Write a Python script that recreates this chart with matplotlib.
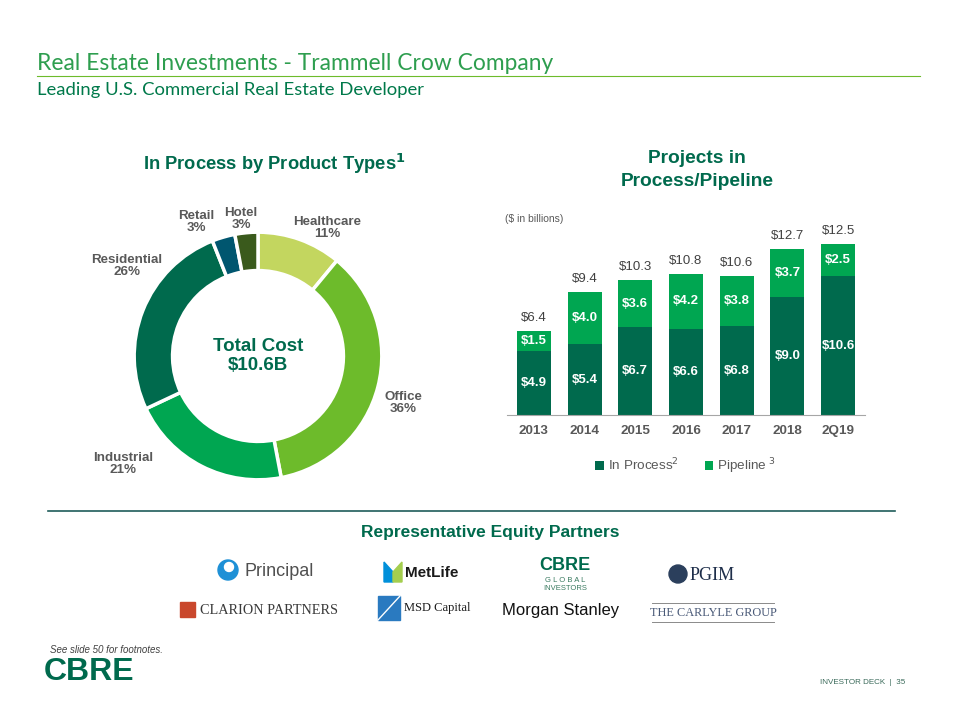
import matplotlib
matplotlib.use("Agg")
import matplotlib.pyplot as plt
from matplotlib.patches import Rectangle, Ellipse, Polygon
import numpy as np

# --- data ---
product_types = ["Healthcare", "Office", "Industrial", "Residential", "Retail", "Hotel"]
product_share = [11, 36, 21, 26, 3, 3]
product_colors = ["#C3D65F", "#6DBB2B", "#00A651", "#006A4D", "#00566F", "#3A5A1C"]

years = ["2013", "2014", "2015", "2016", "2017", "2018", "2Q19"]
in_process = [4.9, 5.4, 6.7, 6.6, 6.8, 9.0, 10.6]
pipeline = [1.5, 4.0, 3.6, 4.2, 3.8, 3.7, 2.5]
totals = [6.4, 9.4, 10.3, 10.8, 10.6, 12.7, 12.5]

partners_top = ["Principal", "MetLife", "CBRE", "PGIM"]
partners_bottom = ["CLARION PARTNERS", "MSD Capital", "Morgan Stanley", "THE CARLYLE GROUP"]

DARK = "#006A4D"
BRIGHT = "#00A651"
GRAY = "#404040"

plt.rcParams["font.family"] = ["Liberation Sans", "DejaVu Sans"]

W, H = 960, 720
fig = plt.figure(figsize=(9.6, 7.2), dpi=100)


def px(x, y):
    return x / W, 1 - y / H


def ftext(x, y, s, **kw):
    fx, fy = px(x, y)
    return fig.text(fx, fy, s, **kw)


def dot(x, y, r, color):
    fig.add_artist(Ellipse(px(x, y), 2 * r / W, 2 * r / H, color=color,
                           transform=fig.transFigure))


# --- header ---
ftext(37, 64, "Real Estate Investments - Trammell Crow Company", fontsize=16.4,
      family="Lato", color="#2E9E4F", va="center")
ftext(37, 90, "Leading U.S. Commercial Real Estate Developer", fontsize=13.3,
      family="Lato", color="#00794A", va="center")
fig.add_artist(plt.Line2D([37 / W, 920 / W], [1 - 76 / H] * 2, color="#6DBB2B", lw=0.8))

# --- donut ---
ax1 = fig.add_axes([128 / W, 1 - 486 / H, 260 / W, 260 / H])
ax1.pie(product_share, colors=product_colors, startangle=90, counterclock=False,
        radius=1, wedgeprops=dict(width=0.31, edgecolor="white", linewidth=2.5))
ax1.set_xlim(-1.05, 1.05)
ax1.set_ylim(-1.05, 1.05)
ax1.set_aspect("equal")
ax1.axis("off")
ax1.text(0, 0, "Total Cost\n$10.6B", ha="center", va="center", fontsize=13.5,
         fontweight="bold", color=DARK, linespacing=1.15)

label_pos = [(327, 228), (403, 403), (123, 464), (127, 266), (196, 222), (241, 219)]
for name, share, (lx, ly) in zip(product_types, product_share, label_pos):
    ftext(lx, ly, f"{name}\n{share}%", ha="center", va="center", fontsize=9.6,
          fontweight="bold", color="#595959", linespacing=1.05)

ftext(274, 164, "In Process by Product Types$^\\mathbf{1}$", ha="center", va="center",
      fontsize=13.2, fontweight="bold", color=DARK)

# --- stacked bars ---
ax2 = fig.add_axes([507 / W, 1 - 415 / H, 358 / W, 183 / H])
x = np.arange(len(years))
b1 = ax2.bar(x, in_process, width=0.67, color=DARK, label="In Process$^2$")
b2 = ax2.bar(x, pipeline, width=0.67, bottom=in_process, color=BRIGHT, label="Pipeline $^3$")
ax2.bar_label(b1, labels=[f"${v:.1f}" for v in in_process], label_type="center",
              color="white", fontweight="bold", fontsize=9.5)
ax2.bar_label(b2, labels=[f"${v:.1f}" for v in pipeline], label_type="center",
              color="white", fontweight="bold", fontsize=9.5)
for xi, a, b, t in zip(x, in_process, pipeline, totals):
    ax2.annotate(f"${t:.1f}", (xi, a + b), xytext=(0, 5), textcoords="offset points",
                 ha="center", va="bottom", fontsize=9.5, color=GRAY)
ax2.set_xlim(-0.53, 6.53)
ax2.set_ylim(0, 14)
ax2.set_xticks(x)
ax2.set_xticklabels(years, fontweight="bold", fontsize=9.7, color="#595959")
ax2.tick_params(length=0, pad=7)
ax2.set_yticks([])
for s in ["top", "left", "right"]:
    ax2.spines[s].set_visible(False)
ax2.spines["bottom"].set_color("#A6A6A6")
ax2.legend(loc="upper center", bbox_to_anchor=(0.5, -0.16), ncol=2, frameon=False,
           fontsize=9.7, handlelength=0.6, handleheight=0.6, handletextpad=0.3,
           columnspacing=2.0, labelcolor="#595959")

ftext(505, 219, "($ in billions)", fontsize=7.5, color="#595959", va="center")
ftext(697, 170, "Projects in\nProcess/Pipeline", ha="center", va="center",
      fontsize=13.8, fontweight="bold", color=DARK, linespacing=1.4)

# --- partners ---
fig.add_artist(plt.Line2D([48 / W, 895 / W], [1 - 511 / H] * 2, color="#1F5C5A", lw=1.2))
ftext(490, 533, "Representative Equity Partners", ha="center", va="center",
      fontsize=12.5, fontweight="bold", color=DARK)

# Principal
dot(228, 570, 10, "#1E90D6")
dot(229, 567, 4.5, "white")
ftext(245, 571, partners_top[0], fontsize=13, color="#505050", va="center")
# MetLife
fig.add_artist(Polygon([px(384, 562), px(393, 572), px(393, 582), px(384, 582)],
                       closed=True, color="#0090DA", transform=fig.transFigure))
fig.add_artist(Polygon([px(393, 572), px(402, 562), px(402, 582), px(393, 582)],
                       closed=True, color="#A4CE4E", transform=fig.transFigure))
ftext(405, 573, partners_top[1], fontsize=11, fontweight="bold", color="#1A1A1A", va="center")
# CBRE Global Investors
ftext(565, 566, partners_top[2], fontsize=13, fontweight="bold", color=DARK, ha="center", va="center")
ftext(565, 581, "G L O B A L", fontsize=5.5, color="#3A7A60", ha="center", va="center")
ftext(565, 589, "INVESTORS", fontsize=5.5, color="#3A7A60", ha="center", va="center")
# PGIM
dot(678, 574, 9, "#2B3F5C")
ftext(690, 575, partners_top[3], fontsize=13, color="#1E2E4A", va="center",
      family="Liberation Serif")

# Clarion
fig.add_artist(Rectangle(px(180, 617), 15 / W, 15 / H, color="#C9472C", transform=fig.transFigure))
ftext(200, 610, partners_bottom[0], fontsize=10.3, color="#3A3A3A", va="center",
      family="Liberation Serif")
# MSD Capital
fig.add_artist(Rectangle(px(378, 620), 22 / W, 24 / H, color="#2A7AC0", transform=fig.transFigure))
fig.add_artist(plt.Line2D([378 / W, 400 / W], [1 - 620 / H, 1 - 596 / H], color="white", lw=1))
ftext(404, 608, partners_bottom[1], fontsize=9, color="#1A1A1A", va="center",
      family="Liberation Serif")
# Morgan Stanley
ftext(561, 611, partners_bottom[2], fontsize=12, color="#111111", ha="center", va="center")
# Carlyle
fig.add_artist(plt.Line2D([652 / W, 774 / W], [1 - 603 / H] * 2, color="#8A8A8A", lw=0.7))
fig.add_artist(plt.Line2D([652 / W, 774 / W], [1 - 622 / H] * 2, color="#8A8A8A", lw=0.7))
ftext(713, 613, partners_bottom[3], fontsize=8.8, color="#4A5A78", ha="center", va="center",
      family="Liberation Serif")

# --- footer ---
ftext(50, 650, "See slide 50 for footnotes.", fontsize=7, style="italic", color="#404040", va="center")
ftext(44, 672, "CBRE", fontsize=23, fontweight="bold", color=DARK, va="center")
ftext(905, 682, "INVESTOR DECK  |  35", fontsize=5.8, color="#3A6A5A", ha="right", va="center")

fig.savefig("out.png", dpi=100)
